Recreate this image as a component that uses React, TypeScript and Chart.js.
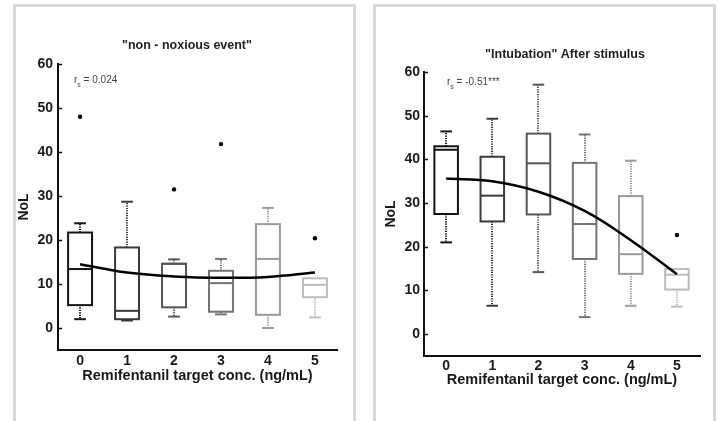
import React, { useEffect, useRef } from "react";
import { Chart, registerables } from "chart.js";

Chart.register(...registerables);

// ---------- data ----------
const categories = [0, 1, 2, 3, 4, 5];
const yTickValues = [0, 10, 20, 30, 40, 50, 60];
const xAxisTitle = "Remifentanil target conc. (ng/mL)";
const yAxisTitle = "NoL";
const boxColors = ["#141414", "#3a3a3a", "#575757", "#737373", "#9a9a9a", "#bcbcbc"];

const leftTitle = '"non - noxious event"';
const leftStat = " = 0.024";
const leftLow = [2.0, 1.7, 2.6, 3.1, 0.0, 2.4];
const leftQ1 = [5.2, 2.0, 4.7, 3.7, 3.0, 7.0];
const leftMedian = [13.4, 3.9, 14.6, 10.2, 15.7, 9.8];
const leftQ3 = [21.7, 18.3, 14.6, 13.0, 23.6, 11.3];
const leftHigh = [23.8, 28.7, 15.6, 15.7, 27.3, 11.3];
const leftOutliers = [
  { x: 0, y: 48.0 },
  { x: 2, y: 31.5 },
  { x: 3, y: 41.8 },
  { x: 5, y: 20.4 },
];
const leftTrend = [14.5, 12.6, 11.7, 11.4, 11.6, 12.6];

const rightTitle = '"Intubation" After stimulus';
const rightStat = " = -0.51***";
const rightLow = [21.0, 6.5, 14.2, 3.9, 6.5, 6.3];
const rightQ1 = [27.5, 25.8, 27.4, 17.2, 13.8, 10.2];
const rightMedian = [42.2, 31.7, 39.1, 25.2, 18.3, 13.6];
const rightQ3 = [43.0, 40.6, 45.9, 39.2, 31.6, 14.9];
const rightHigh = [46.4, 49.3, 57.1, 45.7, 39.7, 14.9];
const rightOutliers = [{ x: 5, y: 22.7 }];
const rightTrend = [35.6, 35.0, 32.6, 28.2, 21.5, 13.7];

// ---------- layout ----------
const FONT = "'Liberation Sans', Arial, Helvetica, sans-serif";

type Panel = {
  title: string;
  stat: string;
  low: number[];
  q1: number[];
  median: number[];
  q3: number[];
  high: number[];
  outliers: { x: number; y: number }[];
  trend: number[];
};

type Geom = {
  width: number;
  padL: number;
  padR: number;
  padT: number;
  padB: number;
  yWidth: number;
  xHeight: number;
  xMin: number;
  xMax: number;
  yTitlePad: number;
  yTickPad: number;
  xTickPad: number;
  xTitlePad: number;
  titleX: number;
  titleY: number;
  statX: number;
  statY: number;
};

const leftPanel: Panel = {
  title: leftTitle,
  stat: leftStat,
  low: leftLow,
  q1: leftQ1,
  median: leftMedian,
  q3: leftQ3,
  high: leftHigh,
  outliers: leftOutliers,
  trend: leftTrend,
};

const rightPanel: Panel = {
  title: rightTitle,
  stat: rightStat,
  low: rightLow,
  q1: rightQ1,
  median: rightMedian,
  q3: rightQ3,
  high: rightHigh,
  outliers: rightOutliers,
  trend: rightTrend,
};

const leftGeom: Geom = {
  width: 360,
  padL: 14,
  padR: 23,
  padT: 64,
  padB: 31,
  yWidth: 44,
  xHeight: 40,
  xMin: -0.47,
  xMax: 5.47,
  yTitlePad: 2,
  yTickPad: 5,
  xTickPad: 3,
  xTitlePad: 5,
  titleX: 187,
  titleY: 46,
  statX: 74,
  statY: 84,
};

const rightGeom: Geom = {
  width: 359,
  padL: 14,
  padR: 19,
  padT: 72,
  padB: 25,
  yWidth: 50,
  xHeight: 40,
  xMin: -0.48,
  xMax: 5.5,
  yTitlePad: 9,
  yTickPad: 4,
  xTickPad: 2,
  xTitlePad: 7,
  titleX: 205,
  titleY: 55,
  statX: 87,
  statY: 86,
};

function makeBoxPlugin(panel: Panel, geom: Geom) {
  return {
    id: "boxes",
    beforeDatasetsDraw(chart: any) {
      const ctx = chart.ctx as CanvasRenderingContext2D;
      const xs = chart.scales.x;
      const ys = chart.scales.y;
      const area = chart.chartArea;
      ctx.save();
      // inward y ticks
      ctx.strokeStyle = "#111";
      ctx.lineWidth = 1.5;
      yTickValues.forEach((v) => {
        const y = Math.round(ys.getPixelForValue(v)) + 0.5;
        ctx.beginPath();
        ctx.moveTo(area.left, y);
        ctx.lineTo(area.left + 4, y);
        ctx.stroke();
      });
      const halfBox = 0.255;
      const halfCap = 0.125;
      categories.forEach((c, i) => {
        const color = boxColors[i];
        const cx = Math.round(xs.getPixelForValue(c));
        const bl = xs.getPixelForValue(c - halfBox);
        const br = xs.getPixelForValue(c + halfBox);
        const cl = xs.getPixelForValue(c - halfCap);
        const cr = xs.getPixelForValue(c + halfCap);
        const yLow = ys.getPixelForValue(panel.low[i]);
        const yQ1 = ys.getPixelForValue(panel.q1[i]);
        const yMed = ys.getPixelForValue(panel.median[i]);
        const yQ3 = ys.getPixelForValue(panel.q3[i]);
        const yHigh = ys.getPixelForValue(panel.high[i]);
        ctx.strokeStyle = color;
        ctx.lineWidth = 2;
        // dotted whiskers
        ctx.setLineDash([1.2, 1.2]);
        if (panel.high[i] > panel.q3[i]) {
          ctx.beginPath();
          ctx.moveTo(cx, yQ3);
          ctx.lineTo(cx, yHigh);
          ctx.stroke();
        }
        if (panel.low[i] < panel.q1[i]) {
          ctx.beginPath();
          ctx.moveTo(cx, yQ1);
          ctx.lineTo(cx, yLow);
          ctx.stroke();
        }
        ctx.setLineDash([]);
        if (panel.high[i] > panel.q3[i]) {
          ctx.beginPath();
          ctx.moveTo(cl, yHigh);
          ctx.lineTo(cr, yHigh);
          ctx.stroke();
        }
        if (panel.low[i] < panel.q1[i]) {
          ctx.beginPath();
          ctx.moveTo(cl, yLow);
          ctx.lineTo(cr, yLow);
          ctx.stroke();
        }
        ctx.strokeRect(bl, yQ3, br - bl, yQ1 - yQ3);
        ctx.beginPath();
        ctx.moveTo(bl, yMed);
        ctx.lineTo(br, yMed);
        ctx.stroke();
      });
      ctx.restore();
    },
    afterDraw(chart: any) {
      const ctx = chart.ctx as CanvasRenderingContext2D;
      ctx.save();
      ctx.fillStyle = "#1e1e1e";
      ctx.font = `bold 12.5px ${FONT}`;
      ctx.textAlign = "center";
      ctx.textBaseline = "middle";
      ctx.fillText(panel.title, geom.titleX, geom.titleY);
      // r_s annotation
      ctx.fillStyle = "#444";
      ctx.textAlign = "left";
      ctx.textBaseline = "alphabetic";
      ctx.font = `10px ${FONT}`;
      ctx.fillText("r", geom.statX, geom.statY - 1);
      const rw = ctx.measureText("r").width;
      ctx.font = `7px ${FONT}`;
      ctx.fillText("s", geom.statX + rw, geom.statY + 3);
      const sw = ctx.measureText("s").width;
      ctx.font = `10px ${FONT}`;
      ctx.fillText(panel.stat, geom.statX + rw + sw, geom.statY - 1);
      ctx.restore();
    },
  };
}

function buildChart(canvas: HTMLCanvasElement, panel: Panel, geom: Geom) {
  const tickFont = { family: FONT, size: 14, weight: "bold" as const };
  return new Chart(canvas, {
    type: "scatter",
    data: {
      datasets: [
        {
          type: "line",
          data: categories.map((c, i) => ({ x: c, y: panel.trend[i] })),
          borderColor: "#000",
          borderWidth: 2.5,
          pointRadius: 0,
          tension: 0.4,
          fill: false,
        } as any,
        {
          type: "scatter",
          data: panel.outliers,
          pointRadius: 2.2,
          backgroundColor: "#000",
          borderWidth: 0,
        },
      ],
    },
    options: {
      animation: false,
      responsive: false,
      maintainAspectRatio: false,
      events: [],
      layout: {
        padding: { left: geom.padL, right: geom.padR, top: geom.padT, bottom: geom.padB },
      },
      plugins: {
        legend: { display: false },
        tooltip: { enabled: false },
        title: { display: false },
      },
      scales: {
        x: {
          type: "linear",
          min: geom.xMin,
          max: geom.xMax,
          afterBuildTicks: (s: any) => {
            s.ticks = categories.map((v) => ({ value: v }));
          },
          afterFit: (s: any) => {
            s.height = geom.xHeight;
          },
          grid: { display: true, drawOnChartArea: false, drawTicks: false },
          border: { display: true, color: "#111", width: 2 },
          ticks: {
            font: tickFont,
            color: "#1a1a1a",
            padding: geom.xTickPad,
            maxRotation: 0,
            autoSkip: false,
          },
          title: {
            display: true,
            text: xAxisTitle,
            font: { family: FONT, size: 14.5, weight: "bold" },
            color: "#1a1a1a",
            padding: { top: 0, bottom: geom.xTitlePad },
          },
        },
        y: {
          type: "linear",
          min: -5,
          max: 60,
          afterBuildTicks: (s: any) => {
            s.ticks = yTickValues.map((v) => ({ value: v }));
          },
          afterFit: (s: any) => {
            s.width = geom.yWidth;
          },
          grid: { display: true, drawOnChartArea: false, drawTicks: false },
          border: { display: true, color: "#111", width: 2 },
          ticks: {
            font: tickFont,
            color: "#1a1a1a",
            padding: geom.yTickPad,
          },
          title: {
            display: true,
            text: yAxisTitle,
            font: { family: FONT, size: 14, weight: "bold" },
            color: "#1a1a1a",
            padding: { top: geom.yTitlePad, bottom: 0 },
          },
        },
      },
    },
    plugins: [makeBoxPlugin(panel, geom)],
  });
}

export default function App() {
  const leftRef = useRef<HTMLCanvasElement>(null);
  const rightRef = useRef<HTMLCanvasElement>(null);

  useEffect(() => {
    document.body.style.margin = "0";
    const charts: Chart[] = [];
    if (leftRef.current) charts.push(buildChart(leftRef.current, leftPanel, leftGeom));
    if (rightRef.current) charts.push(buildChart(rightRef.current, rightPanel, rightGeom));
    return () => charts.forEach((c) => c.destroy());
  }, []);

  const frame = (left: number): React.CSSProperties => ({
    position: "absolute",
    left,
    top: 4,
    width: 343,
    height: 480,
    border: "3px solid #d9d9d9",
    boxSizing: "border-box",
  });

  return (
    <div
      style={{
        position: "fixed",
        left: 0,
        top: 0,
        width: 719,
        height: 421,
        overflow: "hidden",
        background: "#fff",
      }}
    >
      <div style={frame(13)} />
      <div style={frame(373)} />
      <canvas
        ref={leftRef}
        width={360}
        height={421}
        style={{ position: "absolute", left: 0, top: 0, width: 360, height: 421 }}
      />
      <canvas
        ref={rightRef}
        width={359}
        height={421}
        style={{ position: "absolute", left: 360, top: 0, width: 359, height: 421 }}
      />
    </div>
  );
}
